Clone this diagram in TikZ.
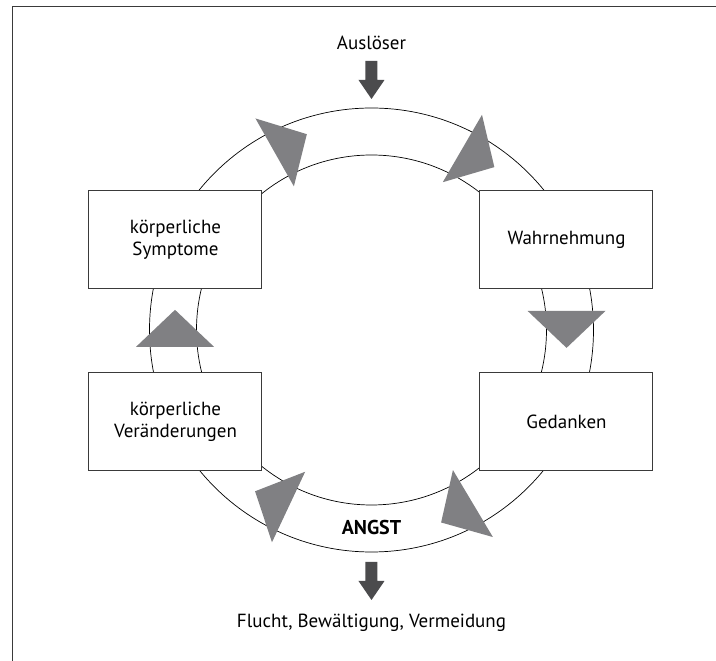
\documentclass[tikz,border=0pt]{standalone}
\usepackage{fontspec}
\setmainfont{PT Sans}
\usetikzlibrary{positioning}

\begin{document}
\begin{tikzpicture}[x=1pt, y=1pt,
    stage/.style={draw=boxColour, line width=1pt, fill=white,
        minimum width=173pt, minimum height=98pt, inner sep=0pt,
        align=center, font=\fontsize{19}{22}\selectfont},
    plaintext/.style={inner sep=0pt, anchor=base, font=\fontsize{19}{22}\selectfont}]

    % Define ring radii
    \def\outerRadius{222}
    \def\innerRadius{175}

    \definecolor{boxColour}{HTML}{3A3A3A}
    \definecolor{wedgeColour}{HTML}{808083}
    \definecolor{arrowColour}{HTML}{4B4B4D}

    % Fix page size
    \useasboundingbox (-371.5,-331) rectangle (344.5,330);

    % Draw frame (top and left edge only)
    \draw[boxColour, line width=1.6pt] (344.5,323.5) -- (-359,323.5) -- (-359,-331);

    % Draw the ring
    \coordinate (center) at (0,0);
    \draw[line width=0.7pt] (center) circle (\outerRadius);
    \draw[line width=0.7pt] (center) circle (\innerRadius);

    % Draw the four stages
    \node[stage] (symptoms) at (-196,90) {körperliche\\Symptome};
    \node[stage] (perception) at (195,90) {Wahrnehmung};
    \node[stage] (thoughts) at (195,-91.5) {Gedanken};
    \node[stage] (changes) at (-196,-91.5) {körperliche\\Veränderungen};

    % Draw the wedges along the ring (clockwise): position angle / distance / turn
    \foreach \angle/\dist/\turn in {118.6/202.3/119.5, 63.4/203/59.8, 5.6/196/0,
                                    -59.7/201/-59.2, -115.1/195.5/-115.2, 184.9/197.2/180}
        \fill[wedgeColour, shift={(\angle:\dist)}, rotate=\turn] (-39,0) -- (39,0) -- (0,-37) -- cycle;

    % Texts
    \node[plaintext] (trigger) at (0,280.7) {Auslöser};
    \node[plaintext, font=\fontsize{20}{22}\selectfont\bfseries] (fear) at (0,-205) {ANGST};
    \node[plaintext] (outcome) at (0,-298) {Flucht, Bewältigung, Vermeidung};

    % Draw the block arrows
    \foreach \ystart in {269,-232}
        \fill[arrowColour, shift={(0,\ystart)}] (-6,0) -- (6,0) -- (6,-19) -- (13,-19)
            -- (0,-38) -- (-13,-19) -- (-6,-19) -- cycle;

\end{tikzpicture}
\end{document}
